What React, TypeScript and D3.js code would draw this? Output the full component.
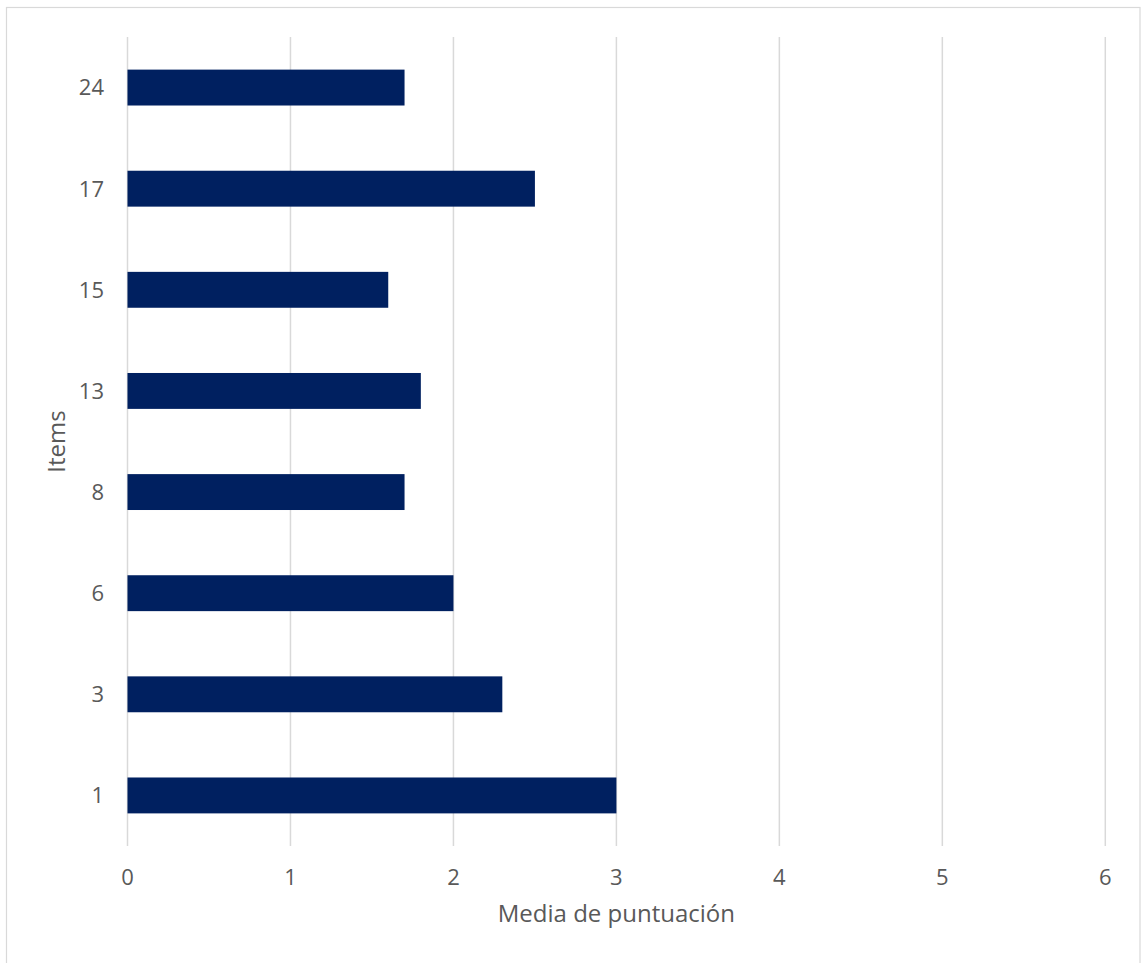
import React from "react";
import * as d3 from "d3";

const categories = ["24", "17", "15", "13", "8", "6", "3", "1"];
const values = [1.7, 2.5, 1.6, 1.8, 1.7, 2.0, 2.3, 3.0];
const xTicks = [0, 1, 2, 3, 4, 5, 6];
const xTitle = "Media de puntuación";
const yTitle = "Items";

const W = 1141;
const H = 963;
const plot = { left: 127.5, right: 1105.3, top: 37, bottom: 846 };
const textColor = "#595959";
const gridColor = "#d9d9d9";
const barColor = "#002060";
const font = "'Open Sans', 'Noto Sans', sans-serif";

export default function App() {
  const x = d3.scaleLinear().domain([0, 6]).range([plot.left, plot.right]);
  const y = d3
    .scaleBand<string>()
    .domain(categories)
    .range([plot.top, plot.bottom])
    .paddingInner(0.645)
    .paddingOuter(0.3225);

  return (
    <svg
      width={W}
      height={H}
      style={{ position: "absolute", left: 0, top: 0, background: "#fff" }}
      fontFamily={font}
    >
      <rect x={0} y={0} width={W} height={H} fill="#fff" />
      <rect x={6.5} y={7.5} width={1133.5} height={H + 10} fill="none" stroke={gridColor} strokeWidth={1.2} />
      {xTicks.map((t) => (
        <line
          key={"g" + t}
          x1={x(t)}
          x2={x(t)}
          y1={plot.top}
          y2={plot.bottom}
          stroke={gridColor}
          strokeWidth={1.5}
        />
      ))}
      {categories.map((c, i) => (
        <rect
          key={"b" + c}
          x={x(0)}
          y={y(c)!}
          width={x(values[i]) - x(0)}
          height={y.bandwidth()}
          fill={barColor}
        />
      ))}
      {xTicks.map((t) => (
        <text
          key={"xt" + t}
          x={x(t)}
          y={885}
          textAnchor="middle"
          fontSize={22}
          fill={textColor}
        >
          {t}
        </text>
      ))}
      {categories.map((c) => (
        <text
          key={"yt" + c}
          x={104}
          y={y(c)! + y.bandwidth() / 2}
          dy="0.36em"
          textAnchor="end"
          fontSize={22}
          fill={textColor}
        >
          {c}
        </text>
      ))}
      <text
        x={(plot.left + plot.right) / 2}
        y={922}
        textAnchor="middle"
        fontSize={24}
        fill={textColor}
      >
        {xTitle}
      </text>
      <text
        transform={`translate(65,${(plot.top + plot.bottom) / 2}) rotate(-90)`}
        textAnchor="middle"
        fontSize={24}
        fill={textColor}
      >
        {yTitle}
      </text>
    </svg>
  );
}
